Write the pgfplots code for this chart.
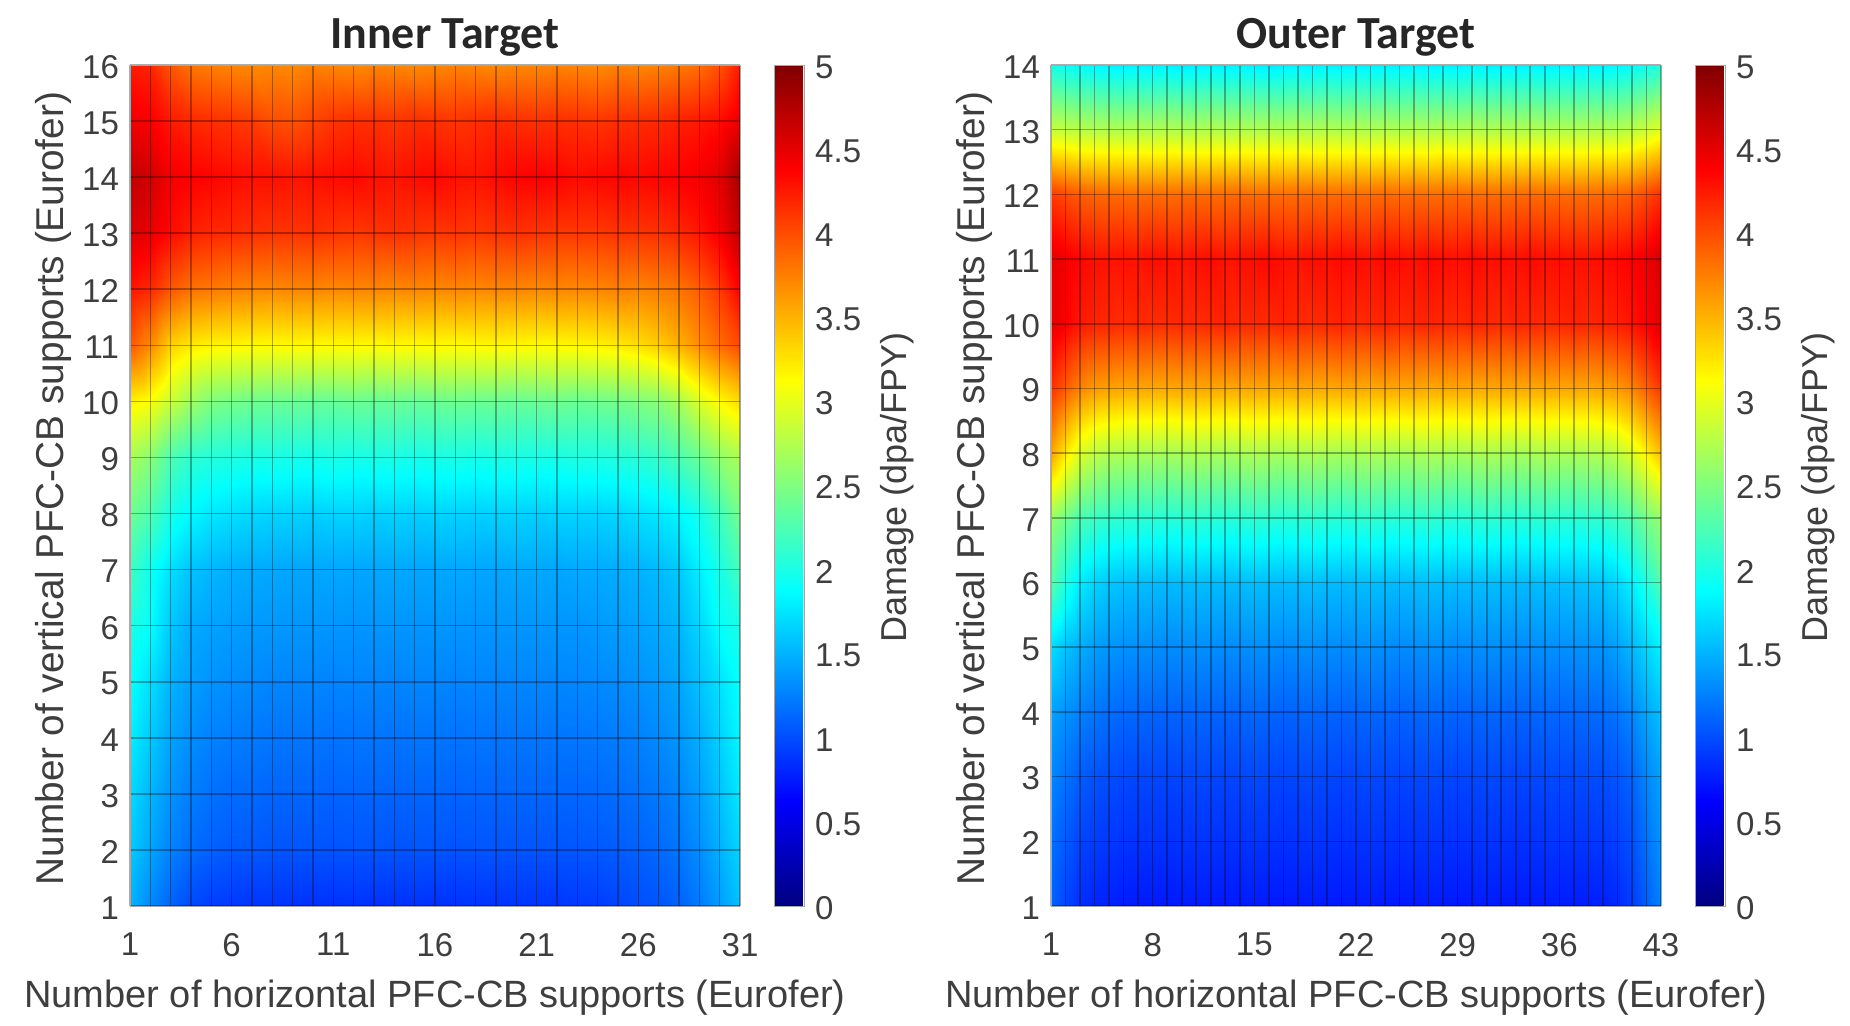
\documentclass[border=0pt]{standalone}
\usepackage{fontspec}
\usepackage{pgfplots}
\usepackage{pgfplotstable}
\pgfplotsset{compat=1.18}
\setmainfont{Liberation Sans}
\newfontfamily\titlefont{Carlito}
\definecolor{labelgray}{RGB}{62,62,62}

% damage: first line is the top row of the map
\pgfplotstableread[header=false]{
4.25 4.20 3.95 3.80 3.75 3.72 3.70 3.72 3.70 3.74 3.72 3.70 3.74 3.72 3.70 3.72 3.74 3.72 3.70 3.72 3.72 3.74 3.72 3.70 3.74 3.72 3.74 3.78 3.84 3.98 4.25
4.45 4.40 4.25 4.18 4.15 4.12 4.08 4.00 3.98 4.05 4.12 4.15 4.14 4.12 4.16 4.14 4.12 4.15 4.17 4.15 4.14 4.16 4.14 4.12 4.15 4.16 4.18 4.22 4.26 4.32 4.48
4.68 4.60 4.42 4.38 4.36 4.32 4.30 4.30 4.28 4.30 4.32 4.34 4.30 4.28 4.32 4.34 4.30 4.28 4.32 4.36 4.38 4.36 4.32 4.34 4.36 4.34 4.36 4.38 4.42 4.52 4.82
4.55 4.48 4.32 4.22 4.18 4.16 4.14 4.12 4.12 4.14 4.12 4.10 4.12 4.14 4.12 4.10 4.12 4.10 4.12 4.14 4.12 4.10 4.10 4.10 4.12 4.12 4.14 4.18 4.26 4.42 4.70
4.28 4.18 3.95 3.82 3.78 3.74 3.72 3.70 3.72 3.72 3.70 3.72 3.72 3.70 3.72 3.70 3.72 3.70 3.72 3.72 3.70 3.72 3.70 3.72 3.74 3.72 3.76 3.80 3.92 4.10 4.38
3.95 3.70 3.35 3.22 3.18 3.16 3.15 3.14 3.15 3.15 3.14 3.15 3.14 3.15 3.14 3.15 3.14 3.15 3.16 3.15 3.14 3.15 3.16 3.18 3.22 3.28 3.38 3.50 3.68 3.85 4.02
3.20 3.10 2.85 2.65 2.50 2.45 2.42 2.40 2.40 2.38 2.38 2.40 2.38 2.40 2.38 2.40 2.42 2.40 2.40 2.38 2.40 2.42 2.40 2.42 2.45 2.50 2.55 2.70 2.95 3.15 3.30
2.70 2.55 2.25 2.10 2.05 2.02 2.00 2.00 1.98 1.98 2.00 1.98 2.00 2.00 1.98 2.00 2.00 1.98 2.00 2.00 1.98 2.00 2.02 2.02 2.04 2.08 2.14 2.25 2.40 2.58 2.72
2.42 2.25 1.98 1.84 1.76 1.72 1.68 1.66 1.66 1.64 1.66 1.66 1.64 1.66 1.64 1.66 1.66 1.64 1.66 1.66 1.64 1.66 1.66 1.66 1.68 1.72 1.76 1.84 1.98 2.20 2.45
2.18 1.95 1.72 1.58 1.52 1.48 1.46 1.45 1.44 1.44 1.45 1.44 1.44 1.45 1.44 1.44 1.45 1.44 1.44 1.45 1.45 1.44 1.46 1.46 1.48 1.50 1.54 1.62 1.80 2.00 2.22
2.02 1.88 1.60 1.46 1.42 1.40 1.38 1.37 1.36 1.36 1.36 1.35 1.36 1.36 1.35 1.36 1.36 1.35 1.36 1.36 1.36 1.36 1.36 1.38 1.40 1.42 1.46 1.52 1.68 1.90 2.00
1.90 1.72 1.50 1.40 1.35 1.32 1.30 1.28 1.28 1.28 1.27 1.28 1.28 1.27 1.28 1.28 1.27 1.28 1.28 1.28 1.28 1.28 1.29 1.30 1.32 1.34 1.38 1.44 1.58 1.74 1.90
1.80 1.62 1.42 1.32 1.26 1.24 1.22 1.20 1.20 1.20 1.19 1.20 1.20 1.19 1.20 1.20 1.19 1.20 1.20 1.20 1.20 1.20 1.21 1.22 1.24 1.26 1.30 1.36 1.48 1.66 1.85
1.70 1.52 1.34 1.24 1.18 1.15 1.14 1.12 1.12 1.12 1.11 1.12 1.12 1.11 1.12 1.12 1.11 1.12 1.12 1.12 1.12 1.12 1.13 1.14 1.16 1.18 1.22 1.28 1.40 1.58 1.78
1.62 1.44 1.26 1.16 1.10 1.07 1.06 1.04 1.04 1.04 1.03 1.04 1.04 1.03 1.04 1.04 1.03 1.04 1.04 1.04 1.04 1.04 1.05 1.06 1.08 1.10 1.14 1.20 1.32 1.50 1.68
1.50 1.30 1.10 0.98 0.92 0.90 0.88 0.88 0.87 0.86 0.86 0.87 0.86 0.86 0.87 0.86 0.86 0.87 0.87 0.88 0.88 0.88 0.90 0.92 0.96 1.00 1.04 1.10 1.22 1.40 1.58
}\innertable

\pgfplotstableread[header=false]{
1.98 1.92 1.88 1.84 1.82 1.80 1.82 1.80 1.82 1.78 1.80 1.82 1.80 1.82 1.80 1.78 1.80 1.82 1.80 1.82 1.80 1.82 1.80 1.82 1.80 1.82 1.80 1.82 1.80 1.82 1.80 1.82 1.80 1.82 1.80 1.82 1.80 1.82 1.82 1.84 1.88 1.94 2.05
2.85 2.82 2.78 2.76 2.75 2.74 2.76 2.74 2.76 2.74 2.74 2.76 2.74 2.76 2.74 2.76 2.74 2.76 2.74 2.76 2.74 2.76 2.74 2.76 2.74 2.76 2.74 2.76 2.74 2.76 2.74 2.76 2.74 2.76 2.74 2.76 2.74 2.76 2.75 2.76 2.80 2.88 3.00
4.10 4.00 3.92 3.88 3.86 3.85 3.84 3.85 3.84 3.86 3.85 3.84 3.85 3.86 3.84 3.85 3.84 3.85 3.86 3.84 3.85 3.84 3.85 3.86 3.84 3.85 3.84 3.85 3.86 3.84 3.85 3.84 3.85 3.86 3.84 3.85 3.84 3.85 3.86 3.88 3.92 4.02 4.15
4.52 4.42 4.35 4.30 4.28 4.30 4.28 4.32 4.30 4.28 4.30 4.32 4.28 4.30 4.32 4.34 4.30 4.28 4.32 4.30 4.34 4.32 4.30 4.34 4.32 4.30 4.34 4.32 4.30 4.34 4.30 4.32 4.30 4.34 4.30 4.32 4.30 4.30 4.32 4.34 4.38 4.45 4.58
4.52 4.38 4.25 4.20 4.18 4.16 4.18 4.16 4.15 4.18 4.16 4.18 4.20 4.16 4.18 4.16 4.20 4.18 4.16 4.18 4.20 4.16 4.18 4.20 4.16 4.18 4.20 4.18 4.16 4.20 4.18 4.16 4.20 4.18 4.16 4.18 4.20 4.18 4.20 4.22 4.28 4.38 4.52
4.15 3.92 3.72 3.62 3.58 3.55 3.56 3.55 3.54 3.56 3.55 3.56 3.54 3.55 3.56 3.55 3.54 3.56 3.55 3.54 3.56 3.55 3.54 3.56 3.55 3.56 3.54 3.55 3.56 3.55 3.54 3.56 3.55 3.54 3.56 3.55 3.56 3.55 3.58 3.62 3.72 3.90 4.12
3.58 3.22 2.95 2.80 2.74 2.72 2.70 2.70 2.68 2.70 2.72 2.70 2.68 2.70 2.72 2.70 2.68 2.70 2.72 2.70 2.68 2.70 2.72 2.70 2.68 2.70 2.72 2.70 2.68 2.70 2.72 2.70 2.68 2.70 2.72 2.70 2.70 2.72 2.74 2.80 2.95 3.18 3.45
2.62 2.42 2.25 2.16 2.12 2.10 2.08 2.08 2.06 2.08 2.10 2.08 2.06 2.08 2.10 2.08 2.06 2.08 2.10 2.08 2.06 2.08 2.10 2.08 2.06 2.08 2.10 2.08 2.06 2.08 2.10 2.08 2.06 2.08 2.10 2.08 2.08 2.10 2.12 2.18 2.28 2.45 2.62
2.30 2.00 1.78 1.66 1.60 1.57 1.56 1.55 1.54 1.55 1.56 1.55 1.54 1.55 1.56 1.55 1.54 1.55 1.56 1.55 1.54 1.55 1.56 1.55 1.54 1.55 1.56 1.55 1.54 1.55 1.56 1.55 1.54 1.55 1.56 1.56 1.57 1.58 1.60 1.68 1.82 2.02 2.28
1.72 1.58 1.48 1.40 1.36 1.34 1.33 1.32 1.31 1.32 1.33 1.32 1.31 1.32 1.33 1.32 1.31 1.32 1.33 1.32 1.31 1.32 1.33 1.32 1.31 1.32 1.33 1.32 1.31 1.32 1.33 1.32 1.31 1.32 1.33 1.33 1.34 1.34 1.35 1.42 1.54 1.68 1.82
1.42 1.34 1.26 1.20 1.16 1.14 1.13 1.12 1.11 1.12 1.13 1.12 1.11 1.12 1.13 1.12 1.11 1.12 1.13 1.12 1.11 1.12 1.13 1.12 1.11 1.12 1.13 1.12 1.11 1.12 1.13 1.12 1.11 1.12 1.13 1.13 1.14 1.14 1.15 1.20 1.30 1.44 1.58
1.28 1.18 1.08 1.02 1.00 0.98 0.97 0.97 0.96 0.97 0.98 0.97 0.96 0.97 0.98 0.97 0.96 0.97 0.98 0.97 0.96 0.97 0.98 0.97 0.96 0.97 0.98 0.97 0.96 0.97 0.98 0.97 0.96 0.97 0.98 0.98 0.98 0.99 1.00 1.04 1.12 1.28 1.42
1.18 1.06 0.96 0.92 0.90 0.88 0.87 0.87 0.86 0.87 0.88 0.87 0.86 0.87 0.88 0.87 0.86 0.87 0.88 0.87 0.86 0.87 0.88 0.87 0.86 0.87 0.88 0.87 0.86 0.87 0.88 0.87 0.86 0.87 0.88 0.88 0.88 0.89 0.90 0.94 1.02 1.18 1.35
1.10 0.96 0.85 0.80 0.78 0.76 0.75 0.75 0.74 0.75 0.76 0.75 0.74 0.75 0.76 0.75 0.74 0.75 0.76 0.75 0.74 0.75 0.76 0.75 0.74 0.75 0.76 0.75 0.74 0.75 0.76 0.75 0.74 0.75 0.76 0.76 0.76 0.77 0.78 0.82 0.92 1.08 1.27
}\outertable

% table -> coordinate list, #2 columns, #3 rows
\newcommand\collectpts[3]{%
  \gdef\pts{}%
  \pgfmathtruncatemacro\lastrow{#3-1}%
  \pgfmathtruncatemacro\lastcol{#2-1}%
  \foreach \ri in {\lastrow,...,0}{%
    \pgfmathtruncatemacro\yy{#3-\ri}%
    \foreach \ci in {0,...,\lastcol}{%
      \pgfmathtruncatemacro\xx{\ci+1}%
      \pgfplotstablegetelem{\ri}{[index]\ci}\of#1%
      \xdef\pts{\pts(\xx,\yy,\pgfplotsretval)}%
    }%
  }%
}
\newcommand\plotmap[2]{\addplot3[surf,shader=interp,mesh/cols=#1] coordinates {#2};}

\pgfplotsset{
  damagemap/.style={
    view={0}{90},
    scale only axis,
    width=305pt,
    height=420.5pt,
    colormap/jet,
    point meta min=0,
    point meta max=5,
    axis on top,
    enlargelimits=false,
    grid=both,
    grid style={black,opacity=0.32,line width=0.8pt},
    minor grid style={black,opacity=0.32,line width=0.8pt},
    major tick length=0pt,
    minor tick length=0pt,
    axis line style={draw=gray!70,line width=0.3pt},
    /pgf/number format/assume math mode=true,
    tick label style={font=\fontsize{16.5}{16.5}\selectfont,text=labelgray},
    xticklabel shift=10pt,
    yticklabel shift=2pt,
    yticklabel style={yshift=-1pt},
    xlabel style={at={(axis description cs:0.5,0)},anchor=center,yshift=-46pt,
      font=\fontsize{19}{19}\selectfont,text=labelgray},
    ylabel style={at={(axis description cs:0,0.5)},anchor=center,yshift=38.5pt,xshift=-1.5pt,
      font=\fontsize{19.4}{19.4}\selectfont,text=labelgray},
    title style={at={(axis description cs:0.5,1)},anchor=center,yshift=8pt,
      font=\titlefont\bfseries\fontsize{23}{23}\selectfont,text=black!85},
    colorbar,
    colorbar style={
      at={(1.056,1)},anchor=north west,
      width=15pt,
      ytick={0,0.5,...,5},
      yticklabels={0,0.5,1,1.5,2,2.5,3,3.5,4,4.5,5},
      major tick length=0pt,
      yticklabel shift=2pt,
      yticklabel style={yshift=-1pt},
      tick label style={font=\fontsize{16.5}{16.5}\selectfont,text=labelgray},
      ylabel={Damage (dpa/FPY)},
      ylabel style={at={(axis description cs:1,0.5)},anchor=center,yshift=-46.5pt,xshift=-1pt,
        font=\fontsize{18}{18}\selectfont,text=labelgray},
      axis line style={draw=gray!70,line width=0.3pt},
    },
  },
}

\begin{document}
\begin{tikzpicture}
\path[use as bounding box] (0,0) rectangle (925pt,512.5pt);

\begin{axis}[
    damagemap,
    at={(65pt,59.5pt)},
    xmin=1, xmax=31, ymin=1, ymax=16,
    xtick={1,6,...,31},
    minor xtick={2,3,4,5,7,8,9,10,12,13,14,15,17,18,19,20,22,23,24,25,27,28,29,30},
    ytick={1,...,16},
    title={Inner Target},
    title style={xshift=5pt},
    xlabel={Number of horizontal PFC-CB supports (Eurofer)},
    ylabel={Number of vertical PFC-CB supports (Eurofer)},
  ]
  \collectpts{\innertable}{31}{16}
  \expandafter\plotmap\expandafter{\expandafter3\expandafter1\expandafter}\expandafter{\pts}
\end{axis}

\begin{axis}[
    damagemap,
    at={(525.5pt,59.5pt)},
    xmin=1, xmax=43, ymin=1, ymax=14,
    xtick={1,8,...,43},
    minor xtick={2,3,4,5,6,7,9,10,11,12,13,14,16,17,18,19,20,21,23,24,25,26,27,28,30,31,32,33,34,35,37,38,39,40,41,42},
    ytick={1,...,14},
    title={Outer Target},
    xlabel={Number of horizontal PFC-CB supports (Eurofer)},
    ylabel={Number of vertical PFC-CB supports (Eurofer)},
  ]
  \collectpts{\outertable}{43}{14}
  \expandafter\plotmap\expandafter{\expandafter4\expandafter3\expandafter}\expandafter{\pts}
\end{axis}
\end{tikzpicture}
\end{document}
